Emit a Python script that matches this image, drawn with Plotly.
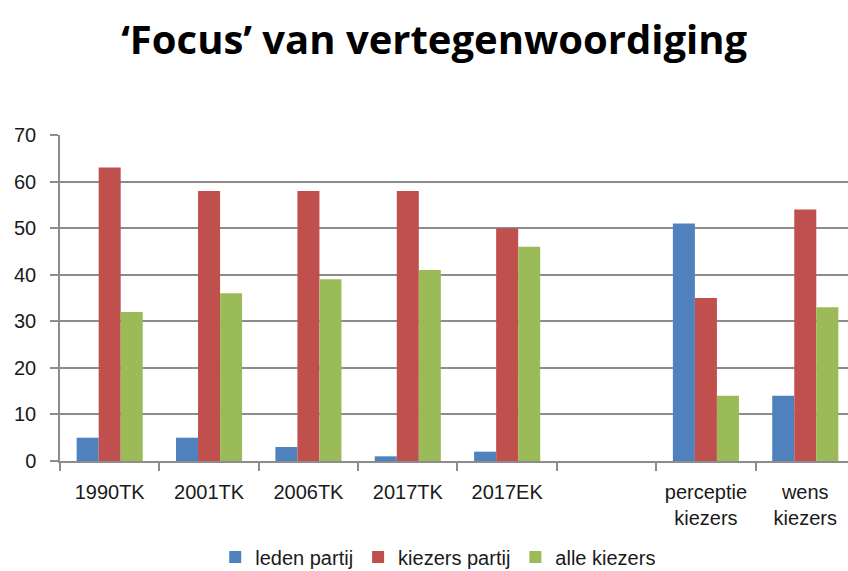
import plotly.graph_objects as go

categories = ["1990TK", "2001TK", "2006TK", "2017TK", "2017EK", " ", "perceptie<br>kiezers", "wens<br>kiezers"]
leden_partij = [5, 5, 3, 1, 2, None, 51, 14]
kiezers_partij = [63, 58, 58, 58, 50, None, 35, 54]
alle_kiezers = [32, 36, 39, 41, 46, None, 14, 33]
y_ticks = [0, 10, 20, 30, 40, 50, 60, 70]

series = [
    ("leden partij", leden_partij, "#4F81BD"),
    ("kiezers partij", kiezers_partij, "#C0504D"),
    ("alle kiezers", alle_kiezers, "#9BBB59"),
]

fig = go.Figure()
for name, vals, col in series:
    fig.add_trace(go.Bar(x=categories, y=vals, name=name, marker_color=col,
                         marker_line_width=0))

axis_font = dict(family="Liberation Sans, Arial, sans-serif", size=20, color="#1a1a1a")
legend_font = dict(family="Liberation Sans, Arial, sans-serif", size=20, color="#1a1a1a")
fig.update_layout(
    width=848, height=571,
    margin=dict(l=60, r=0, t=135, b=110, autoexpand=False),
    paper_bgcolor="white", plot_bgcolor="white",
    barmode="group", bargap=0.335, bargroupgap=0,
    title=dict(text="<b>‘Focus’ van vertegenwoordiging</b>",
               font=dict(family="Open Sans, sans-serif", size=40, color="black"),
               x=0.512, xanchor="center", y=1 - 40 / 571, yanchor="middle"),
    xaxis=dict(type="category", range=[-0.5, 7.43], tickson="boundaries",
               ticks="outside", ticklen=8, tickcolor="#8c8c8c", tickwidth=1.5,
               showline=True, linecolor="#8c8c8c", linewidth=1.5,
               showgrid=False, tickfont=axis_font, tickangle=0,
               ticklabelstandoff=12, automargin=False),
    yaxis=dict(range=[0, 70], tickvals=y_ticks, ticks="outside", ticklen=8,
               tickcolor="#8c8c8c", tickwidth=1.5,
               showline=True, linecolor="#8c8c8c", linewidth=1.5,
               showgrid=True, gridcolor="#8c8c8c", gridwidth=1.5,
               zeroline=False, tickfont=axis_font, ticklabelstandoff=10,
               automargin=False),
    legend=dict(orientation="h", x=0.48, xanchor="center",
                yref="container", y=14 / 571, yanchor="middle",
                font=legend_font, itemwidth=30, tracegroupgap=0),
    showlegend=True,
)

fig.write_html("out.html", config={"displayModeBar": False},
               post_script="document.body.style.margin='0';document.body.style.overflow='hidden';")
